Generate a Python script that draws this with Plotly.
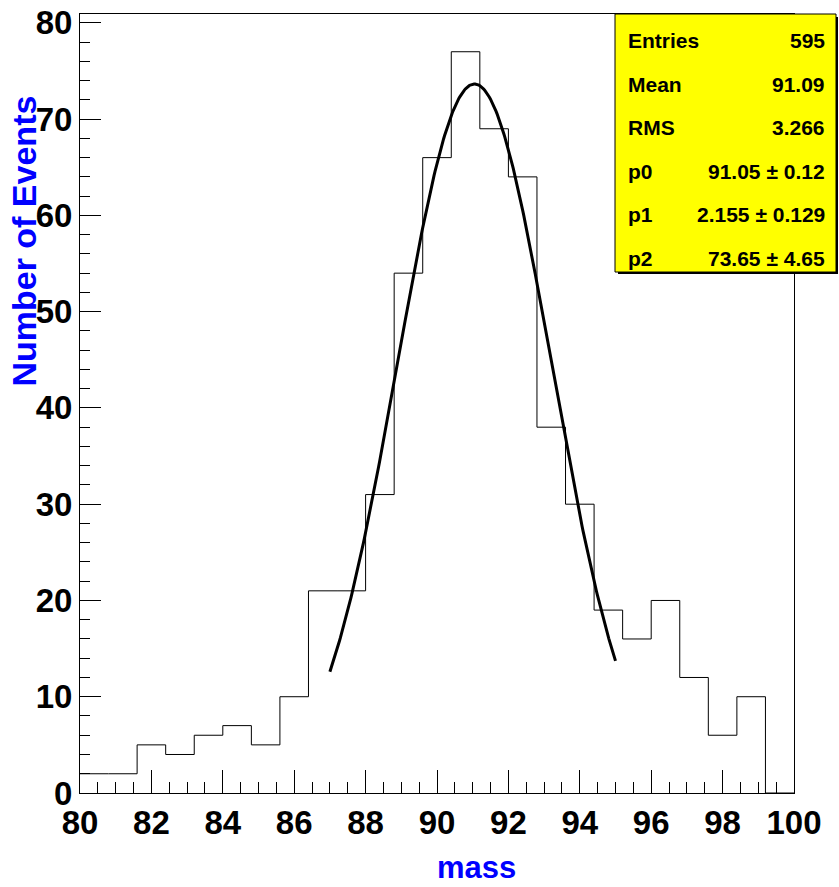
import numpy as np
import plotly.graph_objects as go

# ---- data ----
bin_edges = [80 + 0.8 * i for i in range(26)]
counts = [2, 2, 5, 4, 6, 7, 5, 10, 21, 21, 31, 54, 66, 77, 69, 64, 38, 30, 19, 16, 20, 12, 6, 10, 0]
fit_p0 = 91.05   # mean
fit_p1 = 2.155   # sigma
fit_p2 = 73.65   # amplitude
fit_range = [87.0, 95.0]
stat_labels = ["Entries", "Mean", "RMS", "p0", "p1", "p2"]
stat_values = ["595", "91.09", "3.266", "91.05 ± 0.12", "2.155 ± 0.129", "73.65 ± 4.65"]
x_ticks = [80, 82, 84, 86, 88, 90, 92, 94, 96, 98, 100]
y_ticks = [0, 10, 20, 30, 40, 50, 60, 70, 80]

W, H = 839, 887
L, R, T, B = 80, 45, 5, 94
FONT = "Liberation Sans, Arial, sans-serif"

fig = go.Figure()

# histogram as step line
fig.add_trace(go.Scatter(
    x=bin_edges, y=counts + [counts[-1]],
    mode="lines", line=dict(color="black", width=1, shape="hv"),
    hoverinfo="skip", showlegend=False))

# gaussian fit
xf = np.linspace(fit_range[0], fit_range[1], 300)
yf = fit_p2 * np.exp(-0.5 * ((xf - fit_p0) / fit_p1) ** 2)
fig.add_trace(go.Scatter(x=xf, y=yf, mode="lines",
                         line=dict(color="black", width=3),
                         hoverinfo="skip", showlegend=False))

pw = W - L - R
ph = H - T - B
def px_x(p):
    return (p - L) / pw
def px_y(p):
    return (H - B - p) / ph

# stats box shadow + box
fig.add_shape(type="rect", xref="paper", yref="paper",
              x0=px_x(618), x1=px_x(838), y0=px_y(268), y1=px_y(8),
              fillcolor="black", line=dict(width=0), layer="above")
fig.add_shape(type="rect", xref="paper", yref="paper",
              x0=px_x(615), x1=px_x(836), y0=px_y(266), y1=px_y(5),
              fillcolor="#ffff00", line=dict(color="black", width=1), layer="above")

row_y = [32, 76, 120, 164, 208, 252]
for lab, val, yy in zip(stat_labels, stat_values, row_y):
    fig.add_annotation(xref="paper", yref="paper", x=px_x(626), y=px_y(yy),
                       text=lab, showarrow=False, xanchor="left", yanchor="middle",
                       font=dict(family=FONT, size=21, color="black", weight="bold"))
    fig.add_annotation(xref="paper", yref="paper", x=px_x(827), y=px_y(yy),
                       text=val, showarrow=False, xanchor="right", yanchor="middle",
                       font=dict(family=FONT, size=21, color="black", weight="bold"))

# axis titles
fig.add_annotation(xref="paper", yref="paper", x=px_x(518), y=px_y(868),
                   text="mass", showarrow=False, xanchor="right", yanchor="middle",
                   font=dict(family=FONT, size=31, color="blue", weight="bold"))
fig.add_annotation(xref="paper", yref="paper", x=px_x(24), y=px_y(86),
                   text="Number of Events", showarrow=False, textangle=-90,
                   xanchor="center", yanchor="top",
                   font=dict(family=FONT, size=34, color="blue", weight="bold"))

fig.update_layout(
    width=W, height=H,
    margin=dict(l=L, r=R, t=T, b=B),
    paper_bgcolor="white", plot_bgcolor="white",
    xaxis=dict(range=[80, 100], tickvals=x_ticks, ticktext=[str(v) for v in x_ticks],
               ticks="inside", ticklen=23, tickwidth=1, tickcolor="black",
               minor=dict(dtick=0.5, tick0=80, ticks="inside", ticklen=11, tickwidth=1, tickcolor="black", showgrid=False),
               showline=True, linecolor="black", linewidth=1, mirror=True,
               showgrid=False, zeroline=False, ticklabeloverflow="allow",
               tickfont=dict(family=FONT, size=33, color="black", weight="bold")),
    yaxis=dict(range=[0, 80.92], tickvals=y_ticks, ticktext=[str(v) for v in y_ticks],
               ticks="inside", ticklen=21, tickwidth=1, tickcolor="black",
               minor=dict(dtick=2, tick0=0, ticks="inside", ticklen=10, tickwidth=1, tickcolor="black", showgrid=False),
               showline=True, linecolor="black", linewidth=1, mirror=True,
               showgrid=False, zeroline=False, ticklabeloverflow="allow",
               tickfont=dict(family=FONT, size=33, color="black", weight="bold")),
)

fig.write_html("out.html", config={"displayModeBar": False},
               post_script="document.body.style.margin='0';document.body.style.padding='0';")
